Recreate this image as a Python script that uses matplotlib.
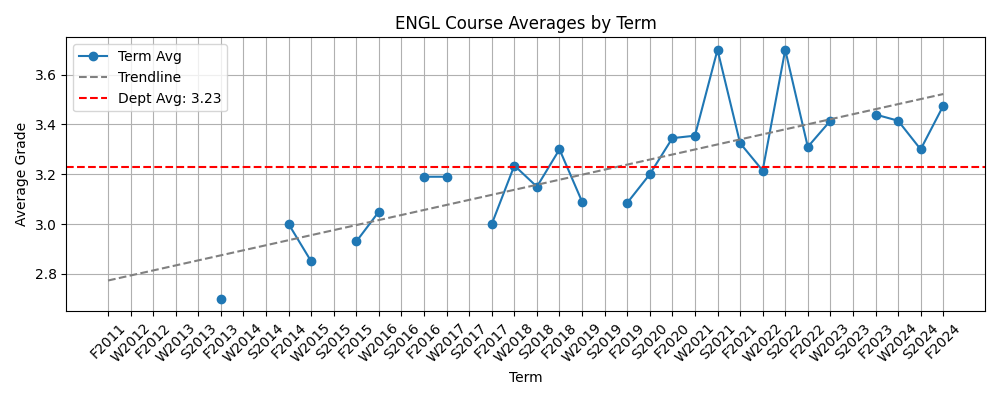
import numpy as np
import matplotlib.pyplot as plt

terms = ['F2011', 'W2012', 'F2012', 'W2013', 'S2013', 'F2013', 'W2014', 'S2014',
         'F2014', 'W2015', 'S2015', 'F2015', 'W2016', 'S2016', 'F2016', 'W2017',
         'S2017', 'F2017', 'W2018', 'S2018', 'F2018', 'W2019', 'S2019', 'F2019',
         'S2020', 'F2020', 'W2021', 'S2021', 'F2021', 'W2022', 'S2022', 'F2022',
         'W2023', 'S2023', 'F2023', 'W2024', 'S2024', 'F2024']
nan = np.nan
avgs = [nan, nan, nan, nan, nan, 2.70, nan, nan,
        3.00, 2.85, nan, 2.93, 3.05, nan, 3.19, 3.19,
        nan, 3.00, 3.235, 3.15, 3.30, 3.09, nan, 3.085,
        3.20, 3.345, 3.355, 3.70, 3.325, 3.215, 3.70, 3.31,
        3.415, nan, 3.44, 3.415, 3.30, 3.475]
dept_avg = 3.23

x = np.arange(len(terms))
y = np.array(avgs)
ok = ~np.isnan(y)
slope, icpt = np.polyfit(x[ok], y[ok], 1)

fig, ax = plt.subplots(figsize=(10, 4))
ax.plot(x, y, marker='o', label='Term Avg')
ax.plot(x, slope * x + icpt, ls='--', color='gray', label='Trendline')
ax.axhline(dept_avg, color='red', ls='--', label=f'Dept Avg: {dept_avg:.2f}')
ax.set_xticks(x)
ax.set_xticklabels(terms, rotation=45)
ax.set_xlabel('Term')
ax.set_ylabel('Average Grade')
ax.set_title('ENGL Course Averages by Term')
ax.grid(True)
ax.legend(loc='upper left')

plt.tight_layout()
plt.savefig('out.png', dpi=100)
